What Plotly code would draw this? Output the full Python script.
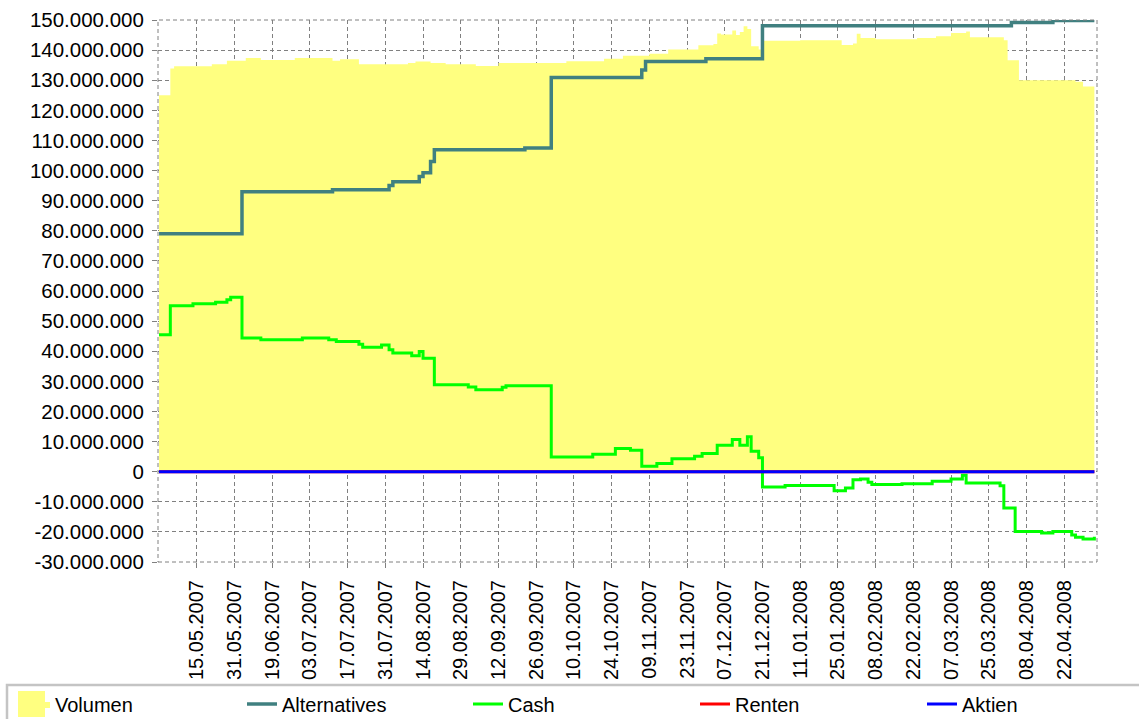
import plotly.graph_objects as go

# ---------------- data (values in Mio. EUR, x = observation number) ----------------
tick_positions = [10, 20, 30, 40, 50, 60, 70, 80, 90, 100, 110, 120,
                  130, 140, 150, 160, 170, 180, 190, 200, 210, 220, 230, 240]
tick_labels = ["15.05.2007", "31.05.2007", "19.06.2007", "03.07.2007", "17.07.2007",
               "31.07.2007", "14.08.2007", "29.08.2007", "12.09.2007", "26.09.2007",
               "10.10.2007", "24.10.2007", "09.11.2007", "23.11.2007", "07.12.2007",
               "21.12.2007", "11.01.2008", "25.01.2008", "08.02.2008", "22.02.2008",
               "07.03.2008", "25.03.2008", "08.04.2008", "22.04.2008"]

y_tick_values = [-30e6, -20e6, -10e6, 0, 10e6, 20e6, 30e6, 40e6, 50e6, 60e6,
                 70e6, 80e6, 90e6, 100e6, 110e6, 120e6, 130e6, 140e6, 150e6]
y_tick_labels = ["-30.000.000", "-20.000.000", "-10.000.000", "0", "10.000.000",
                 "20.000.000", "30.000.000", "40.000.000", "50.000.000", "60.000.000",
                 "70.000.000", "80.000.000", "90.000.000", "100.000.000", "110.000.000",
                 "120.000.000", "130.000.000", "140.000.000", "150.000.000"]

vol_obs = [0, 3, 4, 14, 18, 23, 27, 36, 46, 48, 53, 66, 68, 72, 76, 84, 90, 108,
           118, 123, 130, 135, 143, 147, 148, 149, 152, 153, 154, 155, 156, 157, 159,
           160, 170, 181, 184, 185, 186, 190, 201, 206, 210, 214, 215, 224, 225, 228,
           243, 245, 248]
vol_mio = [125.0, 133.9, 134.6, 135.3, 136.5, 137.4, 136.7, 137.4, 136.5, 137.0, 135.3,
           135.7, 136.2, 135.7, 135.3, 134.7, 135.7, 136.3,
           137.1, 138.1, 138.8, 140.2, 141.6, 142.0, 145.5, 145.2, 146.5, 145.0,
           146.0, 147.9, 147.0, 141.3, 140.2,
           143.1, 143.3, 141.7, 142.2, 145.4, 144.0, 143.6, 144.0, 144.6, 145.7,
           146.2, 144.3, 143.3, 136.6, 130.0,
           129.5, 127.9, 127.9]

alt_obs = [0, 22, 46, 61, 62, 69, 70, 72, 73, 97, 104, 128, 129, 145,
           160, 226, 237, 248]
alt_mio = [79.0, 93.0, 93.6, 95.0, 96.3, 98.0, 99.3, 103.0, 106.9, 107.5,
           130.9, 133.4, 136.2, 137.1, 148.1, 149.2, 149.8, 149.8]

cash_obs = [0, 3, 9, 15, 18, 19, 22, 27, 38, 45, 47, 53, 54, 59, 61, 62,
            67, 69, 70, 73, 82, 84, 91, 92, 104, 115, 121, 125, 128, 132,
            136, 142, 144, 148, 152, 154, 156, 157, 159, 160, 166, 179, 182, 184,
            186, 188, 189, 197, 205, 210, 213, 214, 223, 224, 227, 234, 237, 242,
            243, 245, 248]
cash_mio = [45.5, 55.1, 55.8, 56.3, 57.1, 57.9, 44.4, 43.8, 44.4, 43.8,
            43.2, 42.3, 41.3, 42.1, 40.5, 39.4,
            38.5, 39.9, 37.7, 28.9, 28.1, 27.2, 28.0, 28.5, 4.9, 5.8, 7.7,
            7.1, 1.8, 2.7,
            4.3, 5.1, 6.0, 8.8, 10.7, 8.8, 11.6, 6.8, 4.6, -5.1, -4.6, -6.3, -5.4,
            -2.7,
            -2.4, -3.5, -4.3, -4.0, -3.2, -2.4, -1.2, -3.8, -4.7, -12.1, -19.9,
            -20.4, -19.9, -21.0,
            -21.8, -22.4, -21.6]

renten_obs = [0, 248]
renten_mio = [0.0, 0.0]
aktien_obs = [0, 248]
aktien_mio = [0.0, 0.0]

MIO = 1_000_000
FONT = "Arial, 'Liberation Sans', sans-serif"
GRID = "#808080"

fig = go.Figure()
fig.add_trace(go.Scatter(
    x=vol_obs, y=[v * MIO for v in vol_mio], name="Volumen", mode="lines",
    fill="tozeroy", fillcolor="#FFFF80", line=dict(width=0, shape="hv", color="#FFFF80"),
    legendwidth=182))
fig.add_trace(go.Scatter(
    x=alt_obs, y=[v * MIO for v in alt_mio], name="Alternatives", mode="lines",
    line=dict(color="#408080", width=3.5, shape="hv"), legendwidth=181))
fig.add_trace(go.Scatter(
    x=cash_obs, y=[v * MIO for v in cash_mio], name="Cash", mode="lines",
    line=dict(color="#00FF00", width=3, shape="hv"), legendwidth=182))
fig.add_trace(go.Scatter(
    x=renten_obs, y=[v * MIO for v in renten_mio], name="Renten", mode="lines",
    line=dict(color="#FF0000", width=3, shape="hv"), legendwidth=182))
fig.add_trace(go.Scatter(
    x=aktien_obs, y=[v * MIO for v in aktien_mio], name="Aktien", mode="lines",
    line=dict(color="#0000FF", width=3, shape="hv"), legendwidth=70))

W, H = 1139, 719
ML, MR, MT, MB = 158, 42, 20, 157
PW, PH = W - ML - MR, H - MT - MB


def px_x(p):
    return (p - ML) / PW


def px_y(p):
    return (H - MB - p) / PH


fig.update_layout(
    width=W, height=H,
    margin=dict(l=ML, r=MR, t=MT, b=MB, pad=0, autoexpand=False),
    paper_bgcolor="white", plot_bgcolor="white",
    font=dict(family=FONT, size=20, color="black"),
    showlegend=True,
    legend=dict(orientation="h", x=px_x(15), xanchor="left", y=px_y(704), yanchor="middle",
                bgcolor="rgba(0,0,0,0)", borderwidth=0, itemwidth=30,
                font=dict(family=FONT, size=20, color="black"), traceorder="normal"),
    xaxis=dict(range=[-0.27, 248.7], tickmode="array", tickvals=tick_positions,
               ticktext=tick_labels, tickangle=-90, showgrid=True, gridcolor=GRID,
               gridwidth=1, griddash="4px,3px", zeroline=False, showline=False,
               ticks="outside", ticklen=5, tickcolor=GRID, ticklabelstandoff=4,
               tickfont=dict(family=FONT, size=20, color="black"), fixedrange=True),
    yaxis=dict(range=[-30e6, 150e6], tickmode="array", tickvals=y_tick_values,
               ticktext=y_tick_labels, showgrid=True, gridcolor=GRID, gridwidth=1,
               griddash="4px,3px", zeroline=False, showline=False,
               ticks="outside", ticklen=5, tickcolor=GRID, ticklabelstandoff=4,
               tickfont=dict(family=FONT, size=20.5, color="black"), fixedrange=True),
    shapes=[
        # dashed plot border
        dict(type="rect", xref="paper", yref="paper", x0=0, x1=1, y0=0, y1=1,
             line=dict(color=GRID, width=1, dash="4px,3px"), layer="above"),
        # legend frame
        dict(type="rect", xref="paper", yref="paper", x0=px_x(7), x1=px_x(1150),
             y0=px_y(730), y1=px_y(685), line=dict(color="#c4c4c4", width=2.5),
             fillcolor="rgba(0,0,0,0)", layer="above"),
        # Volumen legend swatch (square)
        dict(type="rect", xref="paper", yref="paper", x0=px_x(18), x1=px_x(45),
             y0=px_y(717), y1=px_y(691), line=dict(width=0), fillcolor="#FFFF80",
             layer="below"),
    ],
)

fig.write_html("out.html", config={"displayModeBar": False},
               post_script="document.body.style.margin='0';document.body.style.overflow='hidden';")
